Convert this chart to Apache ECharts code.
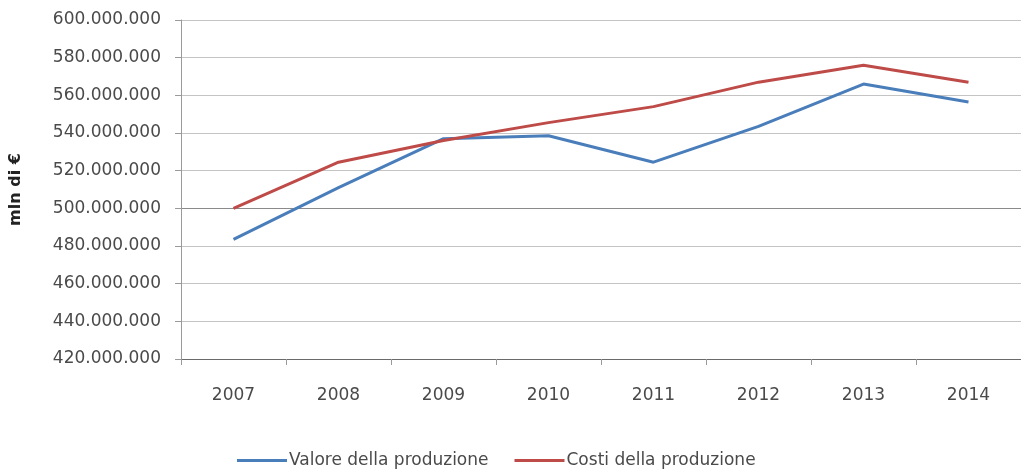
<!DOCTYPE html>
<html>
<head>
<meta charset="utf-8">
<script src="https://cdn.jsdelivr.net/npm/echarts@6/dist/echarts.min.js"></script>
<style>
  html, body { margin: 0; padding: 0; background: #fff; }
  #chart { width: 1021px; height: 470px; }
</style>
</head>
<body>
<div id="chart"></div>
<script>
// Anni di riferimento
const anni = ['2007', '2008', '2009', '2010', '2011', '2012', '2013', '2014'];

// Valori in euro
const valoreProduzione = [483500000, 511000000, 537000000, 538500000, 524500000, 543500000, 566000000, 556500000];
const costiProduzione  = [500000000, 524500000, 536000000, 545500000, 554000000, 567000000, 576000000, 567000000];

// Scala dell'asse verticale
const yMin = 420000000;
const yMax = 600000000;
const yStep = 20000000;

const fmt = v => String(Math.round(v)).replace(/\B(?=(\d{3})+(?!\d))/g, '.');

const font = 'DejaVu Sans';
const gridColors = ['#c4c4c4', '#c4c4c4', '#c4c4c4', '#c4c4c4', '#8a8a8a', '#c4c4c4', '#c4c4c4', '#c4c4c4', '#c4c4c4', '#c4c4c4'];

const chart = echarts.init(document.getElementById('chart'), null, { renderer: 'canvas' });
chart.setOption({
  animation: false,
  backgroundColor: '#ffffff',
  grid: { left: 181, right: -3, top: 20, bottom: 111, containLabel: false },
  legend: {
    left: 232,
    top: 447,
    icon: 'rect',
    itemWidth: 50,
    itemHeight: 3,
    itemGap: 26,
    textStyle: { fontFamily: font, fontSize: 17, color: '#4a4a4a', padding: [0, 0, 0, -3] },
    data: ['Valore della produzione', 'Costi della produzione']
  },
  xAxis: {
    type: 'category',
    data: anni,
    boundaryGap: true,
    axisLine: { lineStyle: { color: '#6a6a6a', width: 1 } },
    axisTick: { show: true, length: 6, lineStyle: { color: '#9a9a9a' } },
    axisLabel: { fontFamily: font, fontSize: 17, color: '#4a4a4a', margin: 28 },
    splitLine: { show: false }
  },
  yAxis: {
    type: 'value',
    min: yMin,
    max: yMax,
    interval: yStep,
    name: 'mln di €',
    nameLocation: 'middle',
    nameGap: 157,
    nameTextStyle: { fontFamily: font, fontSize: 16, fontWeight: 'bold', color: '#222' },
    axisLine: { show: true, lineStyle: { color: '#9a9a9a', width: 1 } },
    axisTick: { show: true, length: 6, lineStyle: { color: '#9a9a9a' } },
    axisLabel: { fontFamily: font, fontSize: 17, color: '#4a4a4a', margin: 20, formatter: fmt },
    splitLine: { show: true, lineStyle: { color: gridColors, width: 1 } }
  },
  series: [
    {
      name: 'Valore della produzione',
      type: 'line',
      data: valoreProduzione,
      showSymbol: false,
      symbol: 'none',
      lineStyle: { color: '#4a7ebb', width: 3 },
      itemStyle: { color: '#4a7ebb' },
      z: 3
    },
    {
      name: 'Costi della produzione',
      type: 'line',
      data: costiProduzione,
      showSymbol: false,
      symbol: 'none',
      lineStyle: { color: '#be4b48', width: 3 },
      itemStyle: { color: '#be4b48' },
      z: 4
    }
  ]
});
</script>
</body>
</html>
